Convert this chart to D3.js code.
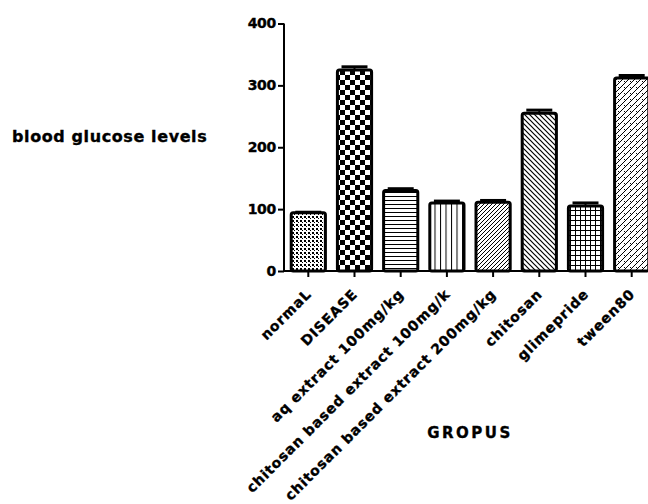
<!DOCTYPE html>
<html>
<head>
<meta charset="utf-8">
<script src="https://cdn.jsdelivr.net/npm/d3@7"></script>
<style>
  html, body { margin: 0; padding: 0; background: #fff; }
  text { font-family: "DejaVu Sans", sans-serif; font-weight: bold; fill: #000; stroke: #000; stroke-width: 0.35px; }
</style>
</head>
<body>
<svg id="chart" width="648" height="504"></svg>
<script>
const groups = ["normaL", "DISEASE", "aq extract 100mg/kg", "chitosan based extract 100mg/k",
  "chitosan based extract 200mg/kg", "chitosan", "glimepride", "tween80"];
const means = [94, 325, 130, 110, 111, 255, 105, 312];
const errors = [1, 5, 3, 3, 3, 5, 5, 4];
const yTicks = [0, 100, 200, 300, 400];
const patternIds = ["dots", "checker", "hlines", "vlines", "fdiag", "bdiag", "grid", "hatch"];

const svg = d3.select("#chart");
const x = d3.scaleBand().domain(groups).range([284, 656]).paddingInner(0.26).paddingOuter(0.156);
const y = d3.scaleLinear().domain([0, 400]).range([271, 23.5]);

// fill patterns, black on white
const defs = svg.append("defs");
function pat(id, w, h, draw) {
  const p = defs.append("pattern").attr("id", id)
    .attr("patternUnits", "userSpaceOnUse").attr("width", w).attr("height", h);
  p.append("rect").attr("width", w).attr("height", h).attr("fill", "#fff");
  draw(p);
}
pat("dots", 4, 4, p => {
  p.append("rect").attr("width", 2).attr("height", 2).attr("fill", "#000");
  p.append("rect").attr("x", 2).attr("y", 2).attr("width", 1).attr("height", 1).attr("fill", "#000");
});
pat("checker", 10, 10, p => {
  p.append("rect").attr("width", 5).attr("height", 5).attr("fill", "#000");
  p.append("rect").attr("x", 5).attr("y", 5).attr("width", 5).attr("height", 5).attr("fill", "#000");
});
pat("hlines", 4, 4, p => {
  p.append("rect").attr("width", 4).attr("height", 1).attr("fill", "#000");
});
pat("vlines", 5.5, 4, p => {
  p.append("rect").attr("width", 1).attr("height", 4).attr("fill", "#000");
});
pat("fdiag", 4, 4, p => {
  p.append("path").attr("d", "M-1,1 L1,-1 M0,4 L4,0 M3,5 L5,3").attr("stroke", "#000").attr("stroke-width", 1);
});
pat("bdiag", 5, 5, p => {
  p.append("path").attr("d", "M-1,4 L1,6 M0,0 L5,5 M4,-1 L6,1").attr("stroke", "#000").attr("stroke-width", 1.2);
});
pat("grid", 5, 5, p => {
  p.append("rect").attr("width", 5).attr("height", 1).attr("fill", "#000");
  p.append("rect").attr("width", 1).attr("height", 5).attr("fill", "#000");
});
pat("hatch", 6, 6, p => {
  p.append("path").attr("d", "M-1,1 L1,-1 M0,6 L6,0 M5,7 L7,5 M0,3 L1.5,4.5")
    .attr("stroke", "#000").attr("stroke-width", 1);
});

// bars with error caps
const bar = svg.append("g").selectAll("g").data(groups).join("g");
bar.append("line")
  .attr("x1", d => x(d) + x.bandwidth() / 2).attr("x2", d => x(d) + x.bandwidth() / 2)
  .attr("y1", (d, i) => y(means[i])).attr("y2", (d, i) => y(means[i] + errors[i]))
  .attr("stroke", "#000").attr("stroke-width", 2);
bar.append("line")
  .attr("x1", d => x(d) + x.bandwidth() * 0.12).attr("x2", d => x(d) + x.bandwidth() * 0.88)
  .attr("y1", (d, i) => y(means[i] + errors[i])).attr("y2", (d, i) => y(means[i] + errors[i]))
  .attr("stroke", "#000").attr("stroke-width", 3);
bar.append("rect")
  .attr("x", d => x(d)).attr("width", x.bandwidth())
  .attr("y", (d, i) => y(means[i])).attr("height", (d, i) => y(0) - y(means[i]))
  .attr("rx", 2)
  .attr("fill", (d, i) => `url(#${patternIds[i]})`)
  .attr("stroke", "#000").attr("stroke-width", 3);

// y axis
const yAxis = svg.append("g").attr("transform", "translate(284,0)")
  .call(d3.axisLeft(y).tickValues(yTicks).tickSize(6).tickPadding(2));
yAxis.select(".domain").attr("stroke-width", 2).attr("d", `M0,${y(400)}V${y(0)}`);
yAxis.selectAll(".tick line").attr("stroke-width", 2);
yAxis.selectAll("text").style("font-size", "14px").style("letter-spacing", "-0.3px");

// x axis
const xAxis = svg.append("g").attr("transform", `translate(0,${y(0)})`)
  .call(d3.axisBottom(x).tickSize(6).tickSizeOuter(0).tickFormat(""));
xAxis.select(".domain").attr("stroke-width", 2).attr("d", "M284,0H648");
xAxis.selectAll(".tick line").attr("stroke-width", 2);

svg.append("g").selectAll("text").data(groups).join("text")
  .attr("transform", d => `translate(${x(d) + x.bandwidth() / 2 + 4},${y(0) + 24}) rotate(-45)`)
  .attr("text-anchor", "end")
  .style("font-size", "14px")
  .style("letter-spacing", "0.9px")
  .text(d => d);

svg.append("text")
  .attr("x", 12).attr("y", 142)
  .style("font-size", "16px").style("letter-spacing", "0.6px")
  .text("blood glucose levels");

svg.append("text")
  .attr("x", 470).attr("y", 438).attr("text-anchor", "middle")
  .style("font-size", "15px").style("letter-spacing", "2.5px")
  .text("GROPUS");
</script>
</body>
</html>
